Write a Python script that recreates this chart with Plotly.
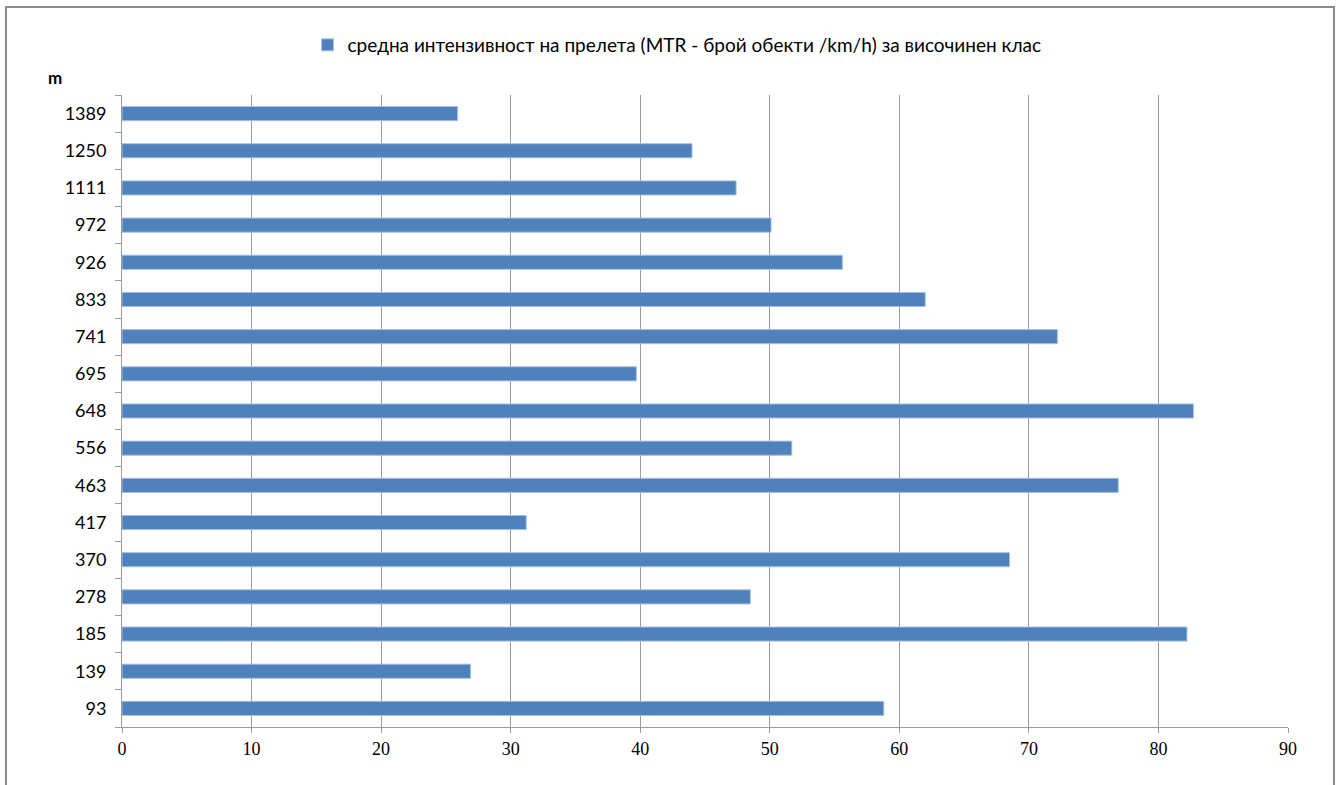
import plotly.graph_objects as go

# Altitude classes (m), bottom to top
heights = ["93", "139", "185", "278", "370", "417", "463", "556", "648",
           "695", "741", "833", "926", "972", "1111", "1250", "1389"]
# Mean migration traffic rate per altitude class
mtr = [58.8, 26.9, 82.2, 48.5, 68.5, 31.2, 76.9, 51.7, 82.7,
       39.7, 72.2, 62.0, 55.6, 50.1, 47.4, 44.0, 25.9]
x_ticks = [0, 10, 20, 30, 40, 50, 60, 70, 80, 90]

series_name = "средна интензивност на прелета (MTR - брой обекти /km/h) за височинен клас"

W, H = 1338, 785
L, R, T, B = 122, 50, 95, 58
pw, ph = W - L - R, H - T - B


def px_x(p):
    return (p - L) / pw


def px_y(p):
    return (H - B - p) / ph


fig = go.Figure()
fig.add_trace(go.Bar(
    x=mtr, y=heights, orientation="h", name=series_name,
    marker=dict(color="#4F81BD", line=dict(color="#A7C0E0", width=1)),
))

grid_col = "#9c9c9c"
fig.update_layout(
    width=W, height=H,
    margin=dict(l=L, r=R, t=T, b=B),
    paper_bgcolor="white", plot_bgcolor="white",
    bargap=0.62,
    showlegend=True,
    font=dict(family="Lato, Liberation Sans, Arial", size=15, color="black"),
    legend=dict(
        orientation="h", x=px_x(677), xanchor="center",
        y=px_y(45), yanchor="middle",
        font=dict(family="Lato, Liberation Sans, Arial", size=19), itemwidth=30,
        bgcolor="rgba(0,0,0,0)",
    ),
    xaxis=dict(
        range=[0, 90], tickvals=x_ticks, showgrid=True, gridcolor=grid_col, gridwidth=1,
        showline=True, linecolor=grid_col, linewidth=1,
        ticks="outside", ticklen=5, tickcolor=grid_col,
        tickfont=dict(family="Liberation Serif, DejaVu Serif", size=18),
        zeroline=False, fixedrange=True,
    ),
    yaxis=dict(
        type="category", categoryorder="array", categoryarray=heights,
        showgrid=False, showline=True, linecolor=grid_col, linewidth=1,
        ticks="outside", ticklen=6, tickcolor=grid_col, tickson="boundaries",
        ticklabelstandoff=11,
        tickfont=dict(family="Lato, Liberation Sans, Arial", size=18),
        zeroline=False, fixedrange=True,
    ),
    annotations=[dict(
        text="<b>m</b>", x=px_x(55), y=px_y(77), xref="paper", yref="paper",
        showarrow=False, xanchor="center", yanchor="middle",
        font=dict(family="Lato, Liberation Sans, Arial", size=17),
    )],
    shapes=[dict(
        type="rect", xref="paper", yref="paper",
        x0=px_x(6), x1=px_x(1334), y0=px_y(792), y1=px_y(7),
        line=dict(color="#8c8c8c", width=2), fillcolor="rgba(0,0,0,0)",
        layer="below",
    )],
)

fig.write_html("out.html")
